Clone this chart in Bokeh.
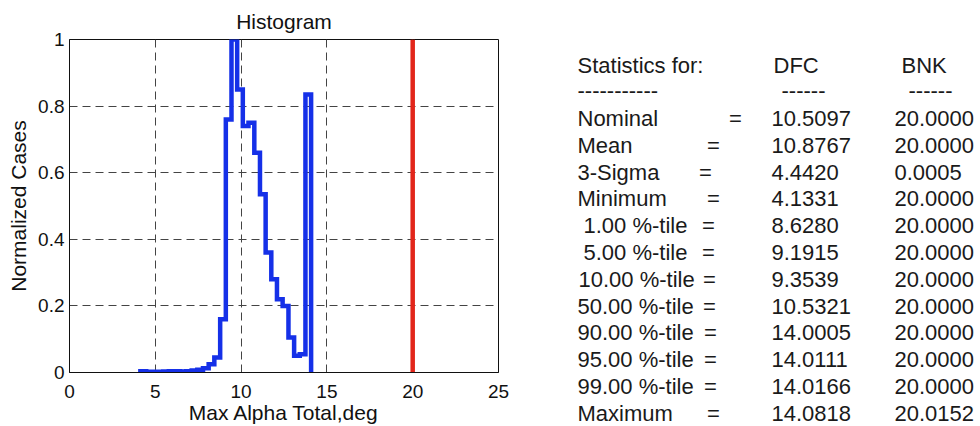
from bokeh.plotting import figure
from bokeh.models import Range1d, FixedTicker
from bokeh.layouts import row
from bokeh.core.properties import value
from bokeh.embed import file_html
from bokeh.resources import INLINE

# ---------------- data ----------------
bin_edges = [4.13, 4.47, 4.80, 5.13, 5.46, 5.79, 6.12, 6.45, 6.79, 7.12, 7.45,
             7.78, 8.11, 8.44, 8.78, 9.11, 9.44, 9.77, 10.10, 10.43, 10.77,
             11.10, 11.43, 11.76, 12.09, 12.42, 12.76, 13.09, 13.42, 13.75, 14.08]
normalized_cases = [0.004, 0.002, 0.002, 0.002, 0.003, 0.004, 0.004, 0.003, 0.004, 0.006,
                    0.008, 0.013, 0.025, 0.045, 0.16, 0.76, 1.0, 0.85, 0.74, 0.75,
                    0.66, 0.535, 0.36, 0.28, 0.22, 0.20, 0.105, 0.05, 0.055, 0.835]
bnk_nominal = 20.0

x_ticks = [0, 5, 10, 15, 20, 25]
y_ticks = [0, 0.2, 0.4, 0.6, 0.8, 1.0]
y_tick_labels = ["0", "0.2", "0.4", "0.6", "0.8", "1"]

stat_names = ["Nominal", "Mean", "3-Sigma", "Minimum", "1.00 %-tile", "5.00 %-tile",
              "10.00 %-tile", "50.00 %-tile", "90.00 %-tile", "95.00 %-tile",
              "99.00 %-tile", "Maximum"]
dfc_stats = [10.5097, 10.8767, 4.4420, 4.1331, 8.6280, 9.1915, 9.3539, 10.5321,
             14.0005, 14.0111, 14.0166, 14.0818]
bnk_stats = [20.0000, 20.0000, 0.0005, 20.0000, 20.0000, 20.0000, 20.0000, 20.0000,
             20.0000, 20.0000, 20.0000, 20.0152]
header_texts = ["Statistics for:", "DFC", "BNK"]
rule_texts = ["-----------", "------", "------"]

# ---------------- histogram figure ----------------
FONT = "Liberation Sans"
W1, H = 510, 426
FL, FR, FT, FB = 69, 498, 39, 372   # frame edges in page pixels

p = figure(width=W1, height=H, x_range=Range1d(0, 25), y_range=Range1d(0, 1),
           output_backend="svg", toolbar_location=None, title="Histogram",
           min_border_left=FL, min_border_right=W1 - FR, min_border_top=FT,
           min_border_bottom=H - FB)
p.frame_align = False
p.title.text_font = FONT
p.title.text_font_size = "21px"
p.title.text_font_style = "normal"
p.title.align = "center"
p.title.standoff = 13
p.title.text_color = "#111111"

p.xaxis.ticker = FixedTicker(ticks=x_ticks)
p.yaxis.ticker = FixedTicker(ticks=y_ticks)
p.yaxis.major_label_overrides = {t: s for t, s in zip(y_ticks, y_tick_labels)}
p.xaxis.axis_label = "Max Alpha Total,deg"
p.yaxis.axis_label = "Normalized Cases"
for ax in (p.xaxis, p.yaxis):
    ax.axis_label_text_font = FONT
    ax.axis_label_text_font_size = "21px"
    ax.axis_label_text_font_style = "normal"
    ax.axis_label_text_color = "#111111"
    ax.major_label_text_font = FONT
    ax.major_label_text_font_size = "19px"
    ax.major_label_text_color = "#111111"
    ax.major_tick_out = 0
    ax.major_tick_in = 0
    ax.minor_tick_out = 0
    ax.minor_tick_in = 0
    ax.axis_line_color = "#111111"
p.xaxis.major_label_standoff = 12
p.xaxis.axis_label_standoff = 0
p.yaxis.major_label_standoff = 5
p.yaxis.axis_label_standoff = 5
p.outline_line_color = "#111111"
p.outline_line_alpha = 1.0
p.grid.grid_line_color = "#444444"
p.grid.grid_line_dash = "8 5"
p.grid.grid_line_width = 1
p.grid.grid_line_alpha = 1.0

step_x = [bin_edges[0]] + bin_edges
step_y = [0] + normalized_cases + [0]
p.step(step_x, step_y, mode="after", line_color="#1530e8", line_width=4.5,
       line_join="miter")
p.line([bnk_nominal, bnk_nominal], [y_ticks[0], y_ticks[-1]], line_color="#e2261b",
       line_width=4.5)

# ---------------- statistics table (ranges in page pixels) ----------------
W2 = 980 - W1
t = figure(width=W2, height=H, x_range=Range1d(W1, W1 + W2), y_range=Range1d(H, 0),
           output_backend="svg", toolbar_location=None, x_axis_type=None,
           y_axis_type=None, min_border=0)
t.frame_align = False
t.outline_line_color = None
t.grid.visible = False

TXT = dict(text_font=value(FONT), text_font_size="22px", text_color="#1a1a1a",
           text_baseline="alphabetic")
row_base = [118 + 26.8 * i for i in range(len(stat_names))]
label_x = [577, 577, 577, 577, 583, 583, 578, 577, 577, 577, 577, 577]
eq_x = [735, 713, 705, 713, 708, 708, 709, 709, 710, 710, 710, 713]

t.text(x=[577, 773, 901], y=[65, 65, 65], text=header_texts, text_align="left", **TXT)
t.text(x=[577, 781, 908], y=[90, 90, 90], text=rule_texts, text_align="left", **TXT)
t.text(x=label_x, y=row_base, text=stat_names, text_align="left", **TXT)
t.text(x=eq_x, y=row_base, text=["="] * len(stat_names), text_align="center", **TXT)
t.text(x=[771] * len(dfc_stats), y=row_base, text=["%.4f" % v for v in dfc_stats],
       text_align="left", **TXT)
t.text(x=[894] * len(bnk_stats), y=row_base, text=["%.4f" % v for v in bnk_stats],
       text_align="left", **TXT)

layout = row(p, t)
open("out.html", "w").write(file_html(layout, INLINE))
